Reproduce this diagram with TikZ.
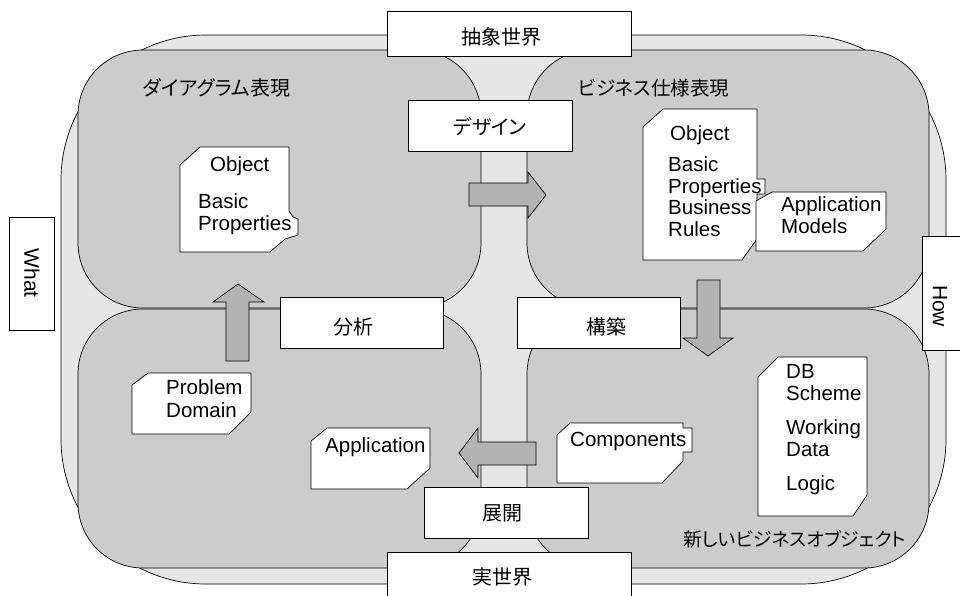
\documentclass[tikz,border=0pt]{standalone}
\usepackage{fontspec}
\setmainfont{Liberation Sans}
\newfontfamily\jp[RawFeature=+palt]{Noto Sans CJK JP}
\definecolor{outerfill}{HTML}{E6E6E6}
\definecolor{quadfill}{HTML}{CCCCCC}
\definecolor{arrfill}{HTML}{B3B3B3}
\begin{document}
\begin{tikzpicture}[x=1pt,y=-1pt,
  outershape/.style={draw=black, line width=0.7pt, fill=outerfill},
  quad/.style={draw=black, line width=0.7pt, fill=quadfill, rounded corners=65pt},
  docshape/.style={draw=black, line width=0.7pt, fill=white},
  blockarrow/.style={draw=black, line width=0.7pt, fill=arrfill},
  labelbox/.style={draw=black, line width=0.7pt, fill=white},
  jptxt/.style={inner sep=0pt, font=\jp\fontsize{20}{24}\selectfont},
  lattxt/.style={inner sep=0pt, anchor=base west, align=left, font=\fontsize{20.5}{21.5}\selectfont},
  sidetxt/.style={inner sep=0pt, rotate=-90, font=\fontsize{21}{24}\selectfont}]
\useasboundingbox (0,0) rectangle (960,595);
% outer region
\path[outershape, rounded corners=145pt] (61,35) rectangle (946,584);
% four quadrants
\path[quad] (78,50) rectangle (481,308);
\path[quad] (527,50) rectangle (929,308);
\path[quad] (78,309) rectangle (481,568);
\path[quad] (527,309) rectangle (929,568);
% block arrows
\path[blockarrow] (469,183) -- (528,183) -- (528,172) -- (546,195) -- (528,218) -- (528,206) -- (469,206) -- cycle;
\path[blockarrow] (226,361) -- (226,302) -- (213,302) -- (238,284) -- (264,302) -- (249,302) -- (249,361) -- cycle;
\path[blockarrow] (697,280) -- (720,280) -- (720,338) -- (733,338) -- (708,356) -- (683,338) -- (697,338) -- cycle;
\path[blockarrow] (536,442) -- (478,442) -- (478,428) -- (459,453) -- (478,478) -- (478,465) -- (536,465) -- cycle;
% documents
\path[docshape] (180,165) -- (200,147) -- (289,147) -- (289,211) -- (293,217) -- (298,219) -- (298,235) -- (285,239) -- (270,252) -- (180,252) -- cycle;
\path[docshape] (643,127) -- (663,109) -- (757,109) -- (757,179) -- (765,179) -- (765,194) -- (757,194) -- (757,239) -- (742,260) -- (643,260) -- cycle;
\path[docshape] (756,201) -- (772,192) -- (886,192) -- (886,229) -- (863,251) -- (756,251) -- cycle;
\path[docshape] (132,385) -- (148,373) -- (251,373) -- (251,412) -- (229,434) -- (132,434) -- cycle;
\path[docshape] (311,441) -- (327,428) -- (430,428) -- (430,468) -- (407,489) -- (311,489) -- cycle;
\path[docshape] (557,435) -- (570,423) -- (683,423) -- (683,428) -- (692,428) -- (692,452) -- (683,452) -- (683,461) -- (662,483) -- (557,483) -- cycle;
\path[docshape] (758,377) -- (778,357) -- (867,357) -- (867,495) -- (853,516) -- (758,516) -- cycle;
% document texts (multi-line nodes: base = last line)
\node[lattxt] (d1a) at (210,171) {Object};
\node[lattxt] (d1b) at (198,230) {Basic\\Properties};
\node[lattxt] (d2a) at (670,140) {Object};
\node[lattxt] (d2b) at (668,236) {Basic\\Properties\\Business\\Rules};
\node[lattxt] (d3) at (781,233) {Application\\Models};
\node[lattxt, font=\fontsize{20.5}{22.7}\selectfont] (d4) at (166,417) {Problem\\Domain};
\node[lattxt] (d5) at (325,452) {Application};
\node[lattxt] (d6) at (570,446) {Components};
\node[lattxt] (d7a) at (786,400) {DB\\Scheme};
\node[lattxt] (d7b) at (786,456) {Working\\Data};
\node[lattxt] (d7c) at (786,490) {Logic};
% region titles
\node[jptxt, anchor=base west] (t1) at (143,95) {ダイアグラム表現};
\node[jptxt, anchor=base west, font=\jp\fontsize{19.5}{24}\selectfont] (t2) at (578,95) {ビジネス仕様表現};
\node[jptxt, anchor=base west, font=\jp\fontsize{18.9}{24}\selectfont] (t3) at (683,546) {新しいビジネスオブジェクト};
% label boxes
\path[labelbox] (387,11) rectangle (631,56);
\node[jptxt] (abs) at (501,37) {抽象世界};
\path[labelbox] (408,100) rectangle (572,151);
\node[jptxt] (design) at (490,127) {デザイン};
\path[labelbox] (280,297) rectangle (443,348);
\node[jptxt] (anal) at (353,327) {分析};
\path[labelbox] (517,297) rectangle (680,348);
\node[jptxt] (build) at (606,327) {構築};
\path[labelbox] (424,487) rectangle (588,538);
\node[jptxt] (deploy) at (502,513) {展開};
\path[labelbox] (387,552) rectangle (631,600);
\node[jptxt] (real) at (502,577) {実世界};
\path[labelbox] (9,217) rectangle (54,330);
\node[sidetxt] (what) at (32,273) {What};
\path[labelbox] (922,236) rectangle (966,350);
\node[sidetxt] (how) at (940,306) {How};
\end{tikzpicture}
\end{document}
